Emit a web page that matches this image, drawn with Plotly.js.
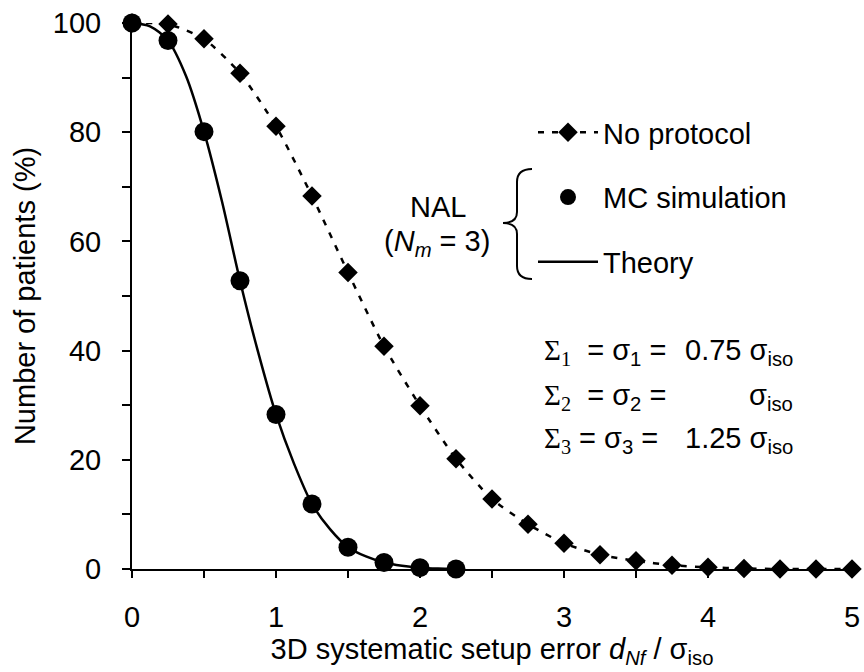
<!DOCTYPE html>
<html>
<head>
<meta charset="utf-8">
<script src="https://cdn.plot.ly/plotly-3.0.1.min.js"></script>
<style>html,body{margin:0;padding:0;background:#fff}#chart{width:864px;height:672px}</style>
</head>
<body>
<div id="chart"></div>
<script>
// ---- data ----
const xNoProtocol = [0,0.25,0.5,0.75,1,1.25,1.5,1.75,2,2.25,2.5,2.75,3,3.25,3.5,3.75,4,4.25,4.5,4.75,5];
const yNoProtocol = [100,99.8,97.1,90.8,81.1,68.3,54.3,40.8,29.9,20.2,12.8,8.2,4.7,2.6,1.5,0.7,0.3,0.1,0,0,0];

const xMC = [0,0.25,0.5,0.75,1,1.25,1.5,1.75,2,2.25];
const yMC = [100,96.8,80.1,52.8,28.3,11.9,4.0,1.2,0.25,0];

const xTheory = [0,0.125,0.25,0.375,0.5,0.625,0.75,0.875,1,1.125,1.25,1.375,1.5,1.625,1.75,1.875,2,2.125,2.25];
const yTheory = [100,99.4,96.8,90.3,80.1,67.3,52.8,39.8,28.3,19.3,11.9,7.3,4.0,2.3,1.2,0.6,0.25,0.08,0];

const seriesNames = ["No protocol","MC simulation","Theory"];
const xTickVals = [0,1,2,3,4,5];
const yTickVals = [0,20,40,60,80,100];

// ---- layout helpers ----
const W = 864, H = 672;
const M = {l:132, r:12, t:23, b:103};
const X0 = 0, X1 = 5, Y0 = 0, Y1 = 100;
const pw = W - M.l - M.r, ph = H - M.t - M.b;
const px2x = p => X0 + (p - M.l) / pw * (X1 - X0);
const py2y = p => Y0 + (H - M.b - p) / ph * (Y1 - Y0);

const FONT = "Liberation Sans, Arial, sans-serif";
const SERIF = "Liberation Serif, Times New Roman, serif";
const FS = 29;

const traces = [
  {x:xNoProtocol, y:yNoProtocol, name:seriesNames[0], type:"scatter", mode:"lines+markers",
   line:{color:"#000", width:2.5, dash:"6px,8px", shape:"spline", smoothing:0.6},
   marker:{symbol:"diamond", size:15, color:"#000"}, cliponaxis:false, legendgroup:"a"},
  {x:xMC, y:yMC, name:seriesNames[1], type:"scatter", mode:"markers",
   marker:{symbol:"circle", size:19, color:"#000"}, cliponaxis:false, legendgroup:"b"},
  {x:xTheory, y:yTheory, name:seriesNames[2], type:"scatter", mode:"lines",
   line:{color:"#000", width:2.5, shape:"spline", smoothing:0.8}, cliponaxis:false, legendgroup:"c"}
];

// brace "{"
const P = (a,b) => px2x(a) + "," + py2y(b);
const bracePath = "M" + P(532,169) + " Q" + P(517,169) + " " + P(517,182) +
  " L" + P(517,212) + " Q" + P(517,223) + " " + P(503,223) +
  " Q" + P(517,223) + " " + P(517,234) + " L" + P(517,266) +
  " Q" + P(517,279) + " " + P(532,279);

const sig = (t) => '<span style="font-family:' + SERIF + '">' + t + '</span>';
const ann = (px, py, text, xa) => ({x:px2x(px), y:py2y(py), text:text, showarrow:false,
  xanchor:xa, yanchor:"middle", font:{size:FS}});

const annotations = [
  ann(438, 207, "NAL", "center"),
  ann(437, 243, "(<i>N</i><sub><i>m</i></sub> = 3)", "center"),
  ann(542, 352, sig("Σ<sub>1</sub>") + "&nbsp; = σ<sub>1</sub> =", "left"),
  ann(542, 397, sig("Σ<sub>2</sub>") + "&nbsp; = σ<sub>2</sub> =", "left"),
  ann(542, 440, sig("Σ<sub>3</sub>") + " = σ<sub>3</sub> =", "left"),
  ann(795, 352, "0.75 σ<sub>iso</sub>", "right"),
  ann(795, 397, "σ<sub>iso</sub>", "right"),
  ann(795, 440, "1.25 σ<sub>iso</sub>", "right")
];

const layout = {
  width:W, height:H,
  margin:{l:M.l, r:M.r, t:M.t, b:M.b, pad:0},
  paper_bgcolor:"#fff", plot_bgcolor:"#fff",
  font:{family:FONT, size:FS, color:"#000"},
  showlegend:true,
  legend:{x:(533-M.l)/pw, y:py2y(107)/100, xanchor:"left", yanchor:"top",
          bgcolor:"rgba(0,0,0,0)", borderwidth:0, traceorder:"grouped", tracegroupgap:24,
          itemwidth:60, font:{size:FS, family:FONT}},
  xaxis:{range:[X0,X1], tickvals:xTickVals, ticks:"outside", ticklen:7, tickwidth:2, tickcolor:"#000",
         showline:true, linewidth:2, linecolor:"#000", showgrid:false, zeroline:false,
         minor:{dtick:0.5, ticks:"outside", ticklen:7, tickwidth:2, tickcolor:"#000", showgrid:false},
         tickfont:{size:FS}, ticklabelstandoff:14,
         title:{text:"3D systematic setup error <i>d</i><sub><i>Nf</i></sub> / σ<sub>iso</sub>", font:{size:FS}, standoff:7}},
  yaxis:{range:[Y0,Y1], tickvals:yTickVals, ticks:"outside", ticklen:8, tickwidth:2, tickcolor:"#000",
         showline:true, linewidth:2, linecolor:"#000", showgrid:false, zeroline:false,
         minor:{dtick:10, ticks:"outside", ticklen:8, tickwidth:2, tickcolor:"#000", showgrid:false},
         tickfont:{size:FS}, ticklabelstandoff:15,
         title:{text:"Number of patients (%)", font:{size:FS}, standoff:9}},
  shapes:[{type:"path", path:bracePath, xref:"x", yref:"y", line:{color:"#000", width:2}}],
  annotations:annotations
};

Plotly.newPlot("chart", traces, layout, {displayModeBar:false, staticPlot:true});
</script>
</body>
</html>
